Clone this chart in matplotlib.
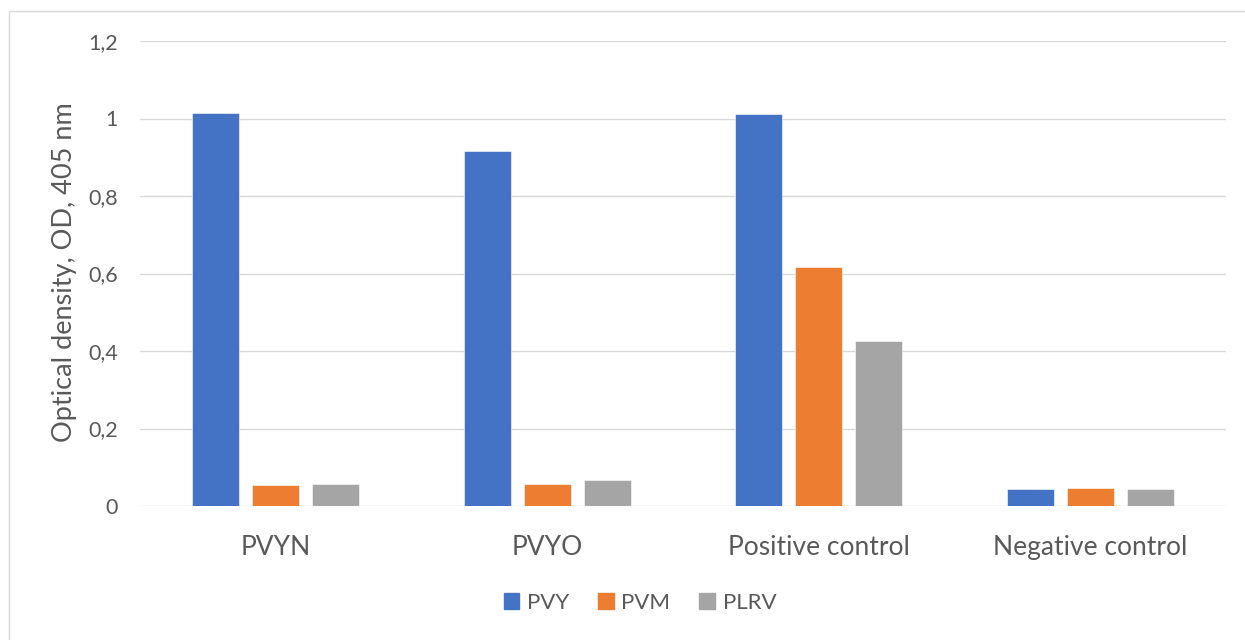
import matplotlib

matplotlib.use("Agg")
import matplotlib.pyplot as plt
import numpy as np
from matplotlib.patches import Rectangle

categories = ["PVYN", "PVYO", "Positive control", "Negative control"]
series = ["PVY", "PVM", "PLRV"]
pvy = [1.015, 0.917, 1.011, 0.043]
pvm = [0.054, 0.058, 0.617, 0.046]
plrv = [0.058, 0.068, 0.427, 0.043]
yticks = [0, 0.2, 0.4, 0.6, 0.8, 1.0, 1.2]
ytick_labels = ["0", "0,2", "0,4", "0,6", "0,8", "1", "1,2"]

colors = ["#4472C4", "#ED7D31", "#A5A5A5"]
text_color = "#595959"
grid_color = "#D9D9D9"

plt.rcParams["font.family"] = ["Lato", "DejaVu Sans"]

fig = plt.figure(figsize=(12.45, 6.4), dpi=100)
ax = fig.add_axes([140 / 1245, 1 - 506 / 640, (1226 - 140) / 1245, (506 - 41) / 640])

x = np.arange(len(categories))
step, width = 0.221, 0.173
for i, (vals, name) in enumerate(zip([pvy, pvm, plrv], series)):
    ax.bar(x + (i - 1) * step, vals, width, color=colors[i], label=name,
           edgecolor="white", linewidth=0.4, zorder=3)

ax.set_xlim(-0.5, len(categories) - 0.5)
ax.set_ylim(0, 1.2)
ax.set_yticks(yticks)
ax.set_yticklabels(ytick_labels)
ax.set_xticks(x)
ax.set_xticklabels(categories)
ax.tick_params(axis="y", length=0, pad=16, labelsize=15.5, labelcolor=text_color)
ax.tick_params(axis="x", length=0, pad=21, labelsize=19, labelcolor=text_color)
ax.grid(axis="y", color=grid_color, lw=1.0, zorder=0)
for s in ax.spines.values():
    s.set_visible(False)

fig.text(65 / 1245, 1 - 272 / 640, "Optical density, OD, 405 nm", rotation=90,
         ha="center", va="center", fontsize=19.5, color=text_color)

handles = [Rectangle((0, 0), 1, 1, color=c) for c in colors]
fig.legend(handles, series, loc="center", bbox_to_anchor=(640 / 1245, 1 - 603 / 640),
           ncol=3, frameon=False, fontsize=16, labelcolor=text_color,
           handlelength=0.7, handleheight=0.7, handletextpad=0.35, columnspacing=1.3)

# light chart-area border as in the source
fig.patches.append(Rectangle((9 / 1245, -0.01), 1.02, 1 - 11 / 640 + 0.01,
                             transform=fig.transFigure, fill=False,
                             edgecolor=grid_color, lw=1.0))

fig.savefig("out.png", dpi=100)
plt.close(fig)
